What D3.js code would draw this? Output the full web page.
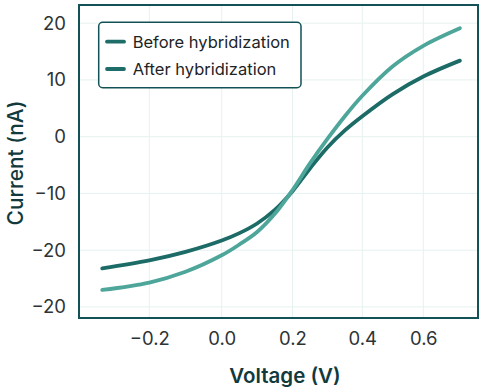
<!DOCTYPE html>
<html><head><meta charset="utf-8">
<script src="https://cdn.jsdelivr.net/npm/d3@7"></script>
<style>
html,body{margin:0;padding:0;background:#fff;}
svg{display:block;font-family:Inter,"Noto Sans",sans-serif;}
</style></head>
<body><svg id="c" width="488" height="391"></svg>
<script>
const voltage = [-0.33,-0.2,-0.1,0,0.05,0.1,0.15,0.2,0.25,0.3,0.35,0.4,0.5,0.6,0.72];
const beforeCurrent = [-23.2,-21.8,-20.3,-18.3,-17.0,-15.3,-12.9,-9.6,-5.6,-1.9,1.1,3.6,7.5,10.6,13.4];
const afterCurrent  = [-27.0,-25.7,-23.8,-20.9,-19.0,-16.8,-13.6,-9.4,-4.7,-0.4,3.6,7.2,12.4,16.0,19.1];
const seriesNames = ["Before hybridization","After hybridization"];
const xTicks = [-0.2,0,0.2,0.4,0.6];
const xTickLabels = ["\u22120.2","0.0","0.2","0.4","0.6"];
const yTicks = [20,10,0,-10,-20,-30];
const yTickLabels = ["20","10","0","\u221210","\u221220","\u221220"];

const svg = d3.select("#c");
const L=79, T=5, R=478, B=318;
const x = d3.scaleLinear().domain(xTicks).range([149.3,221.7,292.5,362.3,423.3]);
const y = d3.scaleLinear().domain([-31.95,23.2]).range([B,T]);

// grid
const g = svg.append("g");
g.selectAll(".vg").data(xTicks).join("line")
  .attr("x1",d=>x(d)).attr("x2",d=>x(d)).attr("y1",T).attr("y2",B)
  .attr("stroke","#e6f2f1").attr("stroke-width",1);
g.selectAll(".hg").data(yTicks).join("line")
  .attr("x1",L).attr("x2",R).attr("y1",d=>y(d)).attr("y2",d=>y(d))
  .attr("stroke","#e6f2f1").attr("stroke-width",1);

// axes
const xa = svg.append("g").attr("transform",`translate(0,${B})`)
  .call(d3.axisBottom(x).tickValues(xTicks).tickSize(0).tickPadding(14)
    .tickFormat((d,i)=>xTickLabels[i]));
const ya = svg.append("g").attr("transform",`translate(${L},0)`)
  .call(d3.axisLeft(y).tickValues(yTicks).tickSize(0).tickPadding(13)
    .tickFormat((d,i)=>yTickLabels[i]));
[xa,ya].forEach(a=>{a.select(".domain").remove();
  a.selectAll("text").attr("font-size",18.5).attr("fill","#2d3436").attr("font-family","Inter");});

// lines
const line = d3.line().x((d,i)=>x(voltage[i])).y(d=>y(d)).curve(d3.curveCatmullRom.alpha(0.5));
const colors = ["#1c6b67","#4ea69a"];
[beforeCurrent, afterCurrent].forEach((s,k)=>{
  svg.append("path").attr("d",line(s)).attr("fill","none")
    .attr("stroke",colors[k]).attr("stroke-width",3.8).attr("stroke-linecap","round");
});

// frame
svg.append("rect").attr("x",L).attr("y",T).attr("width",R-L).attr("height",B-T)
  .attr("fill","none").attr("stroke","#125256").attr("stroke-width",2);

// legend
const lg = svg.append("g");
lg.append("rect").attr("x",98.7).attr("y",22.3).attr("width",202.3).attr("height",65.4)
  .attr("rx",4).attr("fill","#fff").attr("stroke","#125256").attr("stroke-width",1.5);
seriesNames.forEach((n,i)=>{
  const yy = 41.7 + i*27.3;
  lg.append("line").attr("x1",107).attr("x2",124).attr("y1",yy).attr("y2",yy)
    .attr("stroke","#1f6d69").attr("stroke-width",3.8).attr("stroke-linecap","round");
  lg.append("text").attr("x",132.7).attr("y",yy).attr("dy","0.36em")
    .attr("font-size",16.5).attr("fill","#1d2426").text(n);
});

// titles
svg.append("text").attr("x",285).attr("y",383).attr("text-anchor","middle")
  .attr("font-size",20.5).attr("font-weight",600).attr("fill","#123a3c").text("Voltage (V)");
svg.append("text").attr("transform","translate(23,163) rotate(-90)").attr("text-anchor","middle")
  .attr("font-size",21).attr("font-weight",500).attr("fill","#123a3c").text("Current (nA)");
</script></body></html>
